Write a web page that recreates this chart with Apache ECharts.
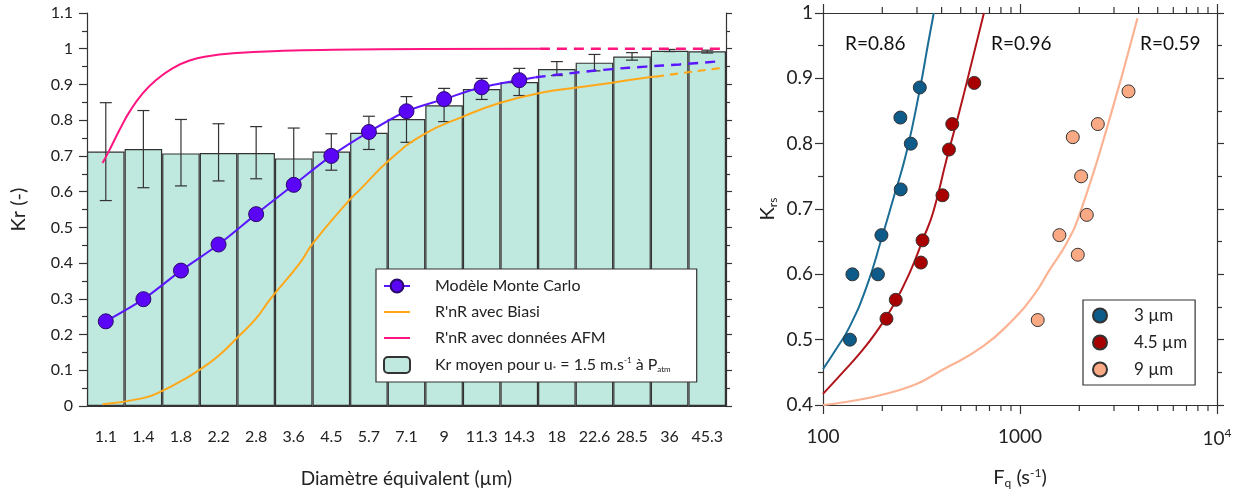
<!DOCTYPE html>
<html>
<head>
<meta charset="utf-8">
<script src="https://cdn.jsdelivr.net/npm/echarts@6.0.0/dist/echarts.min.js"></script>
<style>
  html, body { margin: 0; padding: 0; background: #fff; }
  #chart { width: 1235px; height: 494px; }
</style>
</head>
<body>
<div id="chart"></div>
<script>
// left panel: size classes (µm) and mean Kr
const sizeLabels = ['1.1', '1.4', '1.8', '2.2', '2.8', '3.6', '4.5', '5.7', '7.1', '9', '11.3', '14.3', '18', '22.6', '28.5', '36', '45.3'];
const krMean = [0.712, 0.719, 0.707, 0.708, 0.708, 0.693, 0.712, 0.765, 0.803, 0.842, 0.887, 0.907, 0.943, 0.961, 0.978, 0.994, 0.993];
const krLow = [0.575, 0.611, 0.616, 0.630, 0.636, 0.610, 0.660, 0.718, 0.738, 0.796, 0.858, 0.869, 0.925, 0.938, 0.968, 0.992, 0.988];
const krHigh = [0.849, 0.827, 0.802, 0.790, 0.782, 0.778, 0.762, 0.811, 0.866, 0.889, 0.917, 0.945, 0.964, 0.984, 0.989, 0.998, 0.996];
const monteCarlo = [0.237, 0.299, 0.379, 0.452, 0.537, 0.619, 0.700, 0.767, 0.825, 0.859, 0.892, 0.912];

// curves, [diameter µm, Kr]
const mcTail = [[14.1, 0.912], [15.6, 0.92]];
const mcDashed = [[15.6, 0.92], [20.35, 0.934], [24.9, 0.943], [30.6, 0.95], [37.6, 0.956], [48, 0.965]];
const afmSolid = [[1.10, 0.68], [1.148, 0.717], [1.221, 0.773], [1.298, 0.824], [1.408, 0.876], [1.529, 0.913], [1.692, 0.946], [1.875, 0.967], [2.097, 0.979], [2.443, 0.987], [3.32, 0.994], [4.51, 0.997], [8, 0.999], [16, 1.0]];
const afmDashed = [[16, 1.0], [50, 1.0]];
const biasiSolid = [[1.10, 0.005], [1.41, 0.022], [1.59, 0.043], [1.80, 0.073], [1.99, 0.101], [2.25, 0.143], [2.52, 0.193], [2.82, 0.246], [3.06, 0.297], [3.68, 0.40], [3.99, 0.456], [4.99, 0.577], [5.31, 0.605], [6.38, 0.689], [7.82, 0.759], [10.0, 0.81], [12.5, 0.848], [16.0, 0.876], [20.35, 0.892], [24.9, 0.905], [30.6, 0.919], [32.6, 0.922]];
const biasiDashed = [[32.6, 0.922], [37.6, 0.931], [46.1, 0.943], [49.2, 0.947]];

// right panel: Fq (s-1) and Krs per particle size
const fq3 = [310, 247, 279, 248, 198, 141, 190, 137];
const krs3 = [0.886, 0.840, 0.800, 0.730, 0.660, 0.600, 0.600, 0.500];
const fq45 = [586, 453, 436, 404, 320, 314, 234, 210];
const krs45 = [0.893, 0.830, 0.791, 0.721, 0.652, 0.618, 0.561, 0.532];
const fq9 = [3555, 2483, 1853, 2043, 2183, 1585, 1965, 1230];
const krs9 = [0.880, 0.830, 0.810, 0.750, 0.691, 0.660, 0.630, 0.530];
const fit3 = [[100, 0.455], [116.9, 0.486], [136.6, 0.520], [166, 0.580], [198, 0.654], [227, 0.715], [265, 0.786], [310, 0.883], [342, 0.954], [365, 1.0]];
const fit45 = [[100, 0.417], [126, 0.45], [153.6, 0.479], [186.7, 0.512], [227, 0.552], [276, 0.603], [322, 0.654], [362.5, 0.695], [424, 0.776], [495, 0.852], [579, 0.934], [656, 1.0]];
const fit9 = [[100, 0.40], [245, 0.423], [441, 0.46], [651, 0.49], [890, 0.526], [1168, 0.567], [1421, 0.608], [1726, 0.648], [2018, 0.694], [2800, 0.83], [3947, 0.992]];
const rLabels = ['R=0.86', 'R=0.96', 'R=0.59'];
// minor ticks of the log Fq axis
const fqMinorTicks = [200, 300, 400, 500, 600, 700, 800, 900, 2000, 3000, 4000, 5000, 6000, 7000, 8000, 9000];

const FONT = 'Lato, "Open Sans", sans-serif';
const INK = '#333';
const TXT = '#222';

const chart = echarts.init(document.getElementById('chart'));

const zip = (xs, ys) => xs.map((x, i) => [x, ys[i]]);

function errorBars(params, api) {
  const lo = api.coord([api.value(0), api.value(1)]);
  const hi = api.coord([api.value(0), api.value(2)]);
  const half = 6;
  const style = { stroke: INK, lineWidth: 1.2 };
  return {
    type: 'group',
    children: [
      { type: 'line', shape: { x1: lo[0], y1: lo[1], x2: hi[0], y2: hi[1] }, style },
      { type: 'line', shape: { x1: lo[0] - half, y1: lo[1], x2: lo[0] + half, y2: lo[1] }, style },
      { type: 'line', shape: { x1: hi[0] - half, y1: hi[1], x2: hi[0] + half, y2: hi[1] }, style }
    ]
  };
}

// minor ticks on the bottom and top log axes of the right panel
function logMinorTicks(params, api) {
  const bottom = api.coord([api.value(0), 0.4]);
  const top = api.coord([api.value(0), 1]);
  const style = { stroke: INK, lineWidth: 1.2 };
  return {
    type: 'group',
    children: [
      { type: 'line', shape: { x1: bottom[0], y1: bottom[1], x2: bottom[0], y2: bottom[1] + 6 }, style },
      { type: 'line', shape: { x1: top[0], y1: top[1], x2: top[0], y2: top[1] - 6 }, style }
    ]
  };
}

const tickLine = { lineStyle: { color: INK, width: 1.2 } };
const hideSymbol = { opacity: 0 };

chart.setOption({
  animation: false,
  textStyle: { fontFamily: FONT },
  grid: [
    { left: 87, top: 13, width: 639, height: 393 },
    { left: 823, top: 13, width: 394, height: 393 }
  ],
  legend: [
    {
      orient: 'vertical', left: 376, top: 269, width: 324,
      padding: [9, 26, 8, 7], itemGap: 10, itemWidth: 26, itemHeight: 16,
      backgroundColor: '#fff', borderColor: INK, borderWidth: 1.2,
      data: [
        { name: 'Modèle Monte Carlo' },
        { name: "R'nR avec Biasi", itemStyle: hideSymbol },
        { name: "R'nR avec données AFM", itemStyle: hideSymbol },
        { name: 'Kr moyen' }
      ],
      formatter: name => name === 'Kr moyen'
        ? 'Kr moyen pour u{sub|*} = 1.5 m.s{sup|-1} à P{sub|atm}'
        : name,
      textStyle: {
        fontFamily: FONT, fontSize: 16, color: TXT, padding: [0, 0, 0, 20],
        rich: {
          sub: { fontSize: 8, padding: [9, 0, 0, 0], fontFamily: FONT, color: TXT },
          sup: { fontSize: 8, padding: [0, 0, 9, 0], fontFamily: FONT, color: TXT }
        }
      }
    },
    {
      orient: 'vertical', left: 1083, top: 300, width: 110,
      padding: [7, 8, 7, 9], itemGap: 10, itemWidth: 14, itemHeight: 15,
      backgroundColor: '#fff', borderColor: INK, borderWidth: 1.2,
      icon: 'circle',
      data: ['3 µm', '4.5 µm', '9 µm'],
      textStyle: { fontFamily: FONT, fontSize: 17, color: TXT, padding: [0, 0, 0, 22] }
    }
  ],
  xAxis: [
    {
      type: 'category', gridIndex: 0, data: sizeLabels, position: 'bottom',
      axisLine: tickLine,
      axisTick: { alignWithLabel: true, length: 8, ...tickLine },
      axisLabel: { interval: 0, margin: 23, fontSize: 16, color: TXT },
      name: 'Diamètre équivalent (µm)', nameLocation: 'middle', nameGap: 63,
      nameTextStyle: { fontSize: 19, color: TXT }
    },
    {
      type: 'category', gridIndex: 0, data: sizeLabels, position: 'top',
      axisLine: tickLine,
      axisTick: { alignWithLabel: true, length: 9, ...tickLine },
      axisLabel: { show: false }
    },
    { type: 'log', gridIndex: 0, min: 1, max: 50, show: false },
    {
      type: 'log', gridIndex: 1, min: 100, max: 10000, position: 'bottom',
      axisLine: tickLine,
      axisTick: { length: 9, ...tickLine },
      splitLine: { show: false },
      axisLabel: {
        margin: 22, fontSize: 19, color: TXT,
        formatter: v => v >= 10000 ? '10{sup|4}' : String(v),
        rich: { sup: { fontSize: 12, padding: [0, 0, 11, 0], fontFamily: FONT, color: TXT } }
      },
      name: 'F{sub|q} (s{sup|-1})', nameLocation: 'middle', nameGap: 62,
      nameTextStyle: {
        fontSize: 20, color: TXT,
        rich: {
          sub: { fontSize: 12, padding: [10, 0, 0, 0], fontFamily: FONT, color: TXT },
          sup: { fontSize: 12, padding: [0, 0, 10, 0], fontFamily: FONT, color: TXT }
        }
      }
    },
    {
      type: 'log', gridIndex: 1, min: 100, max: 10000, position: 'top',
      axisLine: tickLine,
      axisTick: { length: 9, ...tickLine },
      splitLine: { show: false },
      axisLabel: { show: false }
    }
  ],
  yAxis: [
    {
      type: 'value', gridIndex: 0, min: 0, max: 1.1, interval: 0.1, position: 'left',
      axisLine: { show: true, ...tickLine },
      axisTick: { show: true, length: 8, ...tickLine },
      minorTick: { show: true, splitNumber: 2, length: 5, ...tickLine },
      splitLine: { show: false },
      axisLabel: { margin: 14, fontSize: 16, color: TXT },
      name: 'Kr (-)', nameLocation: 'middle', nameGap: 58, nameRotate: 90,
      nameTextStyle: { fontSize: 20, color: TXT }
    },
    {
      type: 'value', gridIndex: 0, min: 0, max: 1.1, interval: 0.1, position: 'right',
      axisLine: { show: true, ...tickLine },
      axisTick: { show: true, length: 6, ...tickLine },
      minorTick: { show: true, splitNumber: 2, length: 4, ...tickLine },
      splitLine: { show: false },
      axisLabel: { show: false }
    },
    {
      type: 'value', gridIndex: 1, min: 0.4, max: 1, interval: 0.1, position: 'left',
      axisLine: { show: true, ...tickLine },
      axisTick: { show: true, length: 8, ...tickLine },
      minorTick: { show: true, splitNumber: 2, length: 5, ...tickLine },
      splitLine: { show: false },
      axisLabel: { margin: 10, fontSize: 19, color: TXT },
      name: 'K{sub|rs}', nameLocation: 'middle', nameGap: 44, nameRotate: 90,
      nameTextStyle: {
        fontSize: 20, color: TXT,
        rich: { sub: { fontSize: 12, padding: [10, 0, 0, 0], fontFamily: FONT, color: TXT } }
      }
    },
    {
      type: 'value', gridIndex: 1, min: 0.4, max: 1, interval: 0.1, position: 'right',
      axisLine: { show: true, ...tickLine },
      axisTick: { show: true, length: 7, ...tickLine },
      minorTick: { show: true, splitNumber: 2, length: 5, ...tickLine },
      splitLine: { show: false },
      axisLabel: { show: false }
    }
  ],
  graphic: rLabels.map((t, i) => ({
    type: 'text', left: [845, 991, 1140][i], top: 34, z: 10,
    style: { text: t, fontFamily: FONT, fontSize: 19, fill: '#111' }
  })),
  series: [
    {
      name: 'Kr moyen', type: 'bar', xAxisIndex: 0, yAxisIndex: 0, data: krMean,
      barWidth: '100%', barGap: 0, z: 1,
      itemStyle: { color: '#bfe8de', borderColor: INK, borderWidth: 1.2 }
    },
    {
      name: 'erreur', type: 'custom', xAxisIndex: 0, yAxisIndex: 0, z: 2,
      renderItem: errorBars,
      data: krLow.map((lo, i) => [i, lo, krHigh[i]]),
      encode: { x: 0, y: [1, 2] }
    },
    {
      name: "R'nR avec Biasi", type: 'line', xAxisIndex: 2, yAxisIndex: 0, data: biasiSolid,
      smooth: true, symbol: 'none', z: 3, lineStyle: { color: '#ffa81a', width: 2 }, itemStyle: { color: '#ffa81a' }
    },
    {
      name: 'biasi-ext', type: 'line', xAxisIndex: 2, yAxisIndex: 0, data: biasiDashed,
      smooth: true, symbol: 'none', z: 3, lineStyle: { color: '#ffa81a', width: 2.2, type: [8, 6] }
    },
    {
      name: "R'nR avec données AFM", type: 'line', xAxisIndex: 2, yAxisIndex: 0, data: afmSolid,
      smooth: true, symbol: 'none', z: 3, lineStyle: { color: '#ff1480', width: 2 }, itemStyle: { color: '#ff1480' }
    },
    {
      name: 'afm-ext', type: 'line', xAxisIndex: 2, yAxisIndex: 0, data: afmDashed,
      symbol: 'none', z: 3, lineStyle: { color: '#ff1480', width: 2.6, type: [10, 7] }
    },
    {
      name: 'mc-tail', type: 'line', xAxisIndex: 2, yAxisIndex: 0, data: mcTail,
      symbol: 'none', z: 4, lineStyle: { color: '#5a17ff', width: 2 }
    },
    {
      name: 'mc-ext', type: 'line', xAxisIndex: 2, yAxisIndex: 0, data: mcDashed,
      smooth: true, symbol: 'none', z: 4, lineStyle: { color: '#5a17ff', width: 2.4, type: [10, 7] }
    },
    {
      name: 'Modèle Monte Carlo', type: 'line', xAxisIndex: 0, yAxisIndex: 0, data: monteCarlo,
      smooth: 0.3, symbol: 'circle', symbolSize: 15, z: 5,
      lineStyle: { color: '#5a17ff', width: 2 },
      itemStyle: { color: '#5a05f5', borderColor: '#2a0a6a', borderWidth: 1 }
    },
    {
      name: 'fq-ticks', type: 'custom', xAxisIndex: 3, yAxisIndex: 2, z: 6,
      renderItem: logMinorTicks,
      data: fqMinorTicks.map(v => [v]),
      encode: { x: 0 }
    },
    {
      name: 'fit3', type: 'line', xAxisIndex: 3, yAxisIndex: 2, data: fit3,
      smooth: true, symbol: 'none', clip: true, lineStyle: { color: '#1b6d96', width: 2 }
    },
    {
      name: 'fit45', type: 'line', xAxisIndex: 3, yAxisIndex: 2, data: fit45,
      smooth: true, symbol: 'none', clip: true, lineStyle: { color: '#b0141a', width: 2 }
    },
    {
      name: 'fit9', type: 'line', xAxisIndex: 3, yAxisIndex: 2, data: fit9,
      smooth: true, symbol: 'none', clip: true, lineStyle: { color: '#fbb394', width: 2.2 }
    },
    {
      name: '3 µm', type: 'scatter', xAxisIndex: 3, yAxisIndex: 2, data: zip(fq3, krs3),
      symbolSize: 13, z: 5, itemStyle: { color: '#0e5a89', borderColor: INK, borderWidth: 1, opacity: 1 }
    },
    {
      name: '4.5 µm', type: 'scatter', xAxisIndex: 3, yAxisIndex: 2, data: zip(fq45, krs45),
      symbolSize: 13, z: 5, itemStyle: { color: '#a80000', borderColor: INK, borderWidth: 1, opacity: 1 }
    },
    {
      name: '9 µm', type: 'scatter', xAxisIndex: 3, yAxisIndex: 2, data: zip(fq9, krs9),
      symbolSize: 13, z: 5, itemStyle: { color: '#f9a983', borderColor: INK, borderWidth: 1, opacity: 1 }
    }
  ]
});
</script>
</body>
</html>
